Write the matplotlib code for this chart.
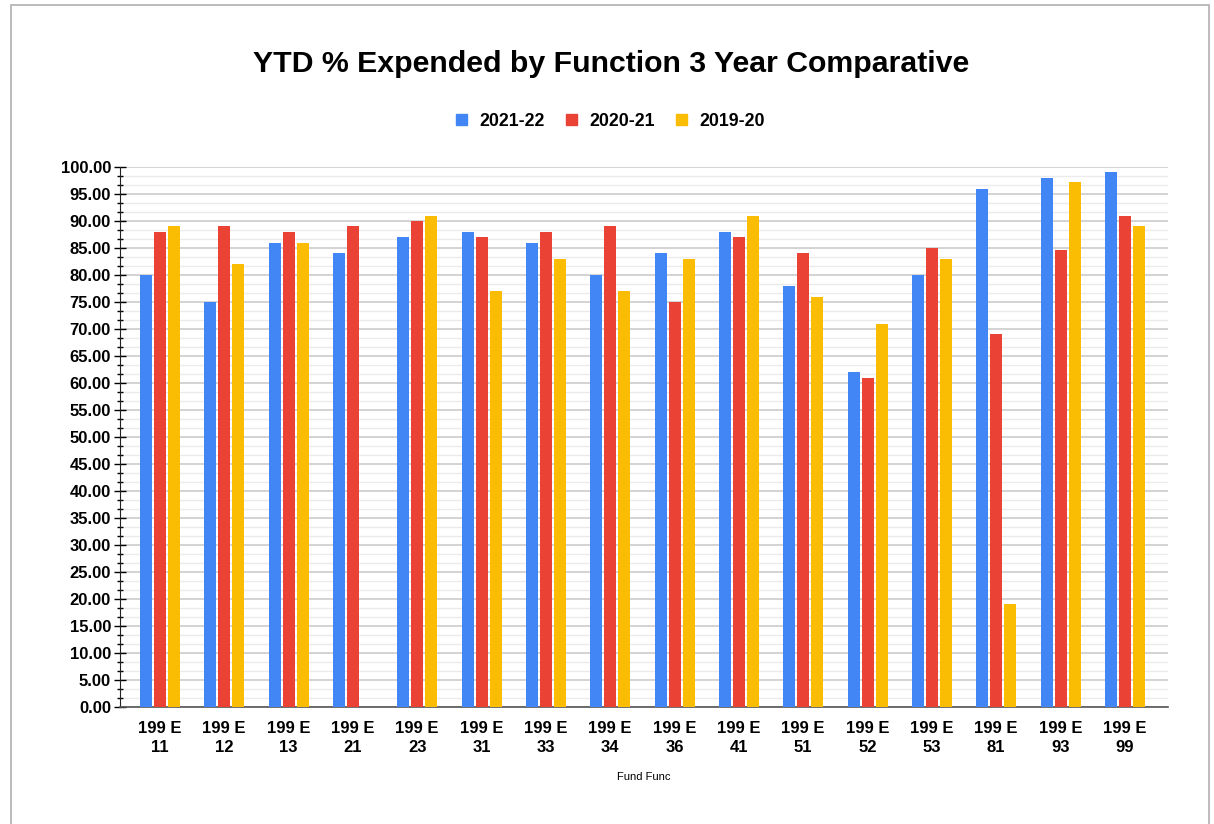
import numpy as np
import matplotlib
matplotlib.use('Agg')
import matplotlib.pyplot as plt
from matplotlib.patches import Rectangle, Patch
from matplotlib.ticker import MultipleLocator

categories = ['11', '12', '13', '21', '23', '31', '33', '34', '36', '41', '51', '52', '53', '81', '93', '99']
labels = ['199 E\n' + c for c in categories]
series = ['2021-22', '2020-21', '2019-20']
y2122 = [80, 75, 86, 84, 87, 88, 86, 80, 84, 88, 78, 62, 80, 96, 98, 99]
y2021 = [88, 89, 88, 89, 90, 87, 88, 89, 75, 87, 84, 61, 85, 69, 84.7, 91]
y1920 = [89, 82, 86, 0, 91, 77, 83, 77, 83, 91, 76, 71, 83, 19, 97.3, 89]
colors = ['#4285F4', '#EA4335', '#FBBC04']

plt.rcParams['font.family'] = ['Liberation Sans', 'DejaVu Sans']

fig = plt.figure(figsize=(12.14, 8.24), dpi=100)
fig.patches.append(Rectangle((11 / 1214, -0.1), (1209 - 11) / 1214, 1.1 - 5 / 824,
                             transform=fig.transFigure, fill=False,
                             edgecolor='#b0b0b0', linewidth=1.2))

ax = fig.add_axes([120 / 1214, 1 - 707 / 824, (1168 - 120) / 1214, (707 - 167) / 824])

x = np.arange(len(categories))
w = 0.187
step = 0.218
for i, (vals, col) in enumerate(zip([y2122, y2021, y1920], colors)):
    ax.bar(x + (i - 1) * step, vals, width=w, color=col, zorder=3, label=series[i])

ax.set_xlim(-0.62, 15.67)
ax.set_ylim(0, 100)
ax.yaxis.set_major_locator(MultipleLocator(5))
ax.yaxis.set_minor_locator(MultipleLocator(5 / 3))
ax.set_yticks(np.arange(0, 101, 5))
ax.set_yticklabels(['%.2f' % v for v in np.arange(0, 101, 5)], fontweight='bold', fontsize=12)
ax.grid(axis='y', which='major', color='#cccccc', linewidth=1.2, zorder=0)
ax.grid(axis='y', which='minor', color='#ebebeb', linewidth=1.0, zorder=0)
ax.tick_params(axis='y', which='major', direction='inout', length=9, width=1, pad=2)
ax.tick_params(axis='y', which='minor', direction='inout', length=5, width=1)

ax.set_xticks(x)
ax.set_xticklabels(labels, fontweight='bold', fontsize=12, linespacing=1.35)
ax.tick_params(axis='x', length=0, pad=10)
ax.set_xlabel('Fund Func', fontsize=8, labelpad=12)

for s in ['top', 'right']:
    ax.spines[s].set_visible(False)
ax.spines['left'].set_color('#222222')
ax.spines['bottom'].set_color('#555555')
ax.spines['bottom'].set_linewidth(1.2)

fig.text(0.503, 1 - 64 / 824, 'YTD % Expended by Function 3 Year Comparative',
         ha='center', va='center', fontsize=21.8, fontweight='bold')

handles = [Patch(color=c) for c in colors]
fig.legend(handles, series, loc='center', bbox_to_anchor=(0.503, 1 - 121 / 824), ncol=3,
           frameon=False, prop={'weight': 'bold', 'size': 12.8},
           handlelength=0.6, handleheight=0.6, handletextpad=0.7, columnspacing=1.2)

fig.savefig('out.png', dpi=100)
